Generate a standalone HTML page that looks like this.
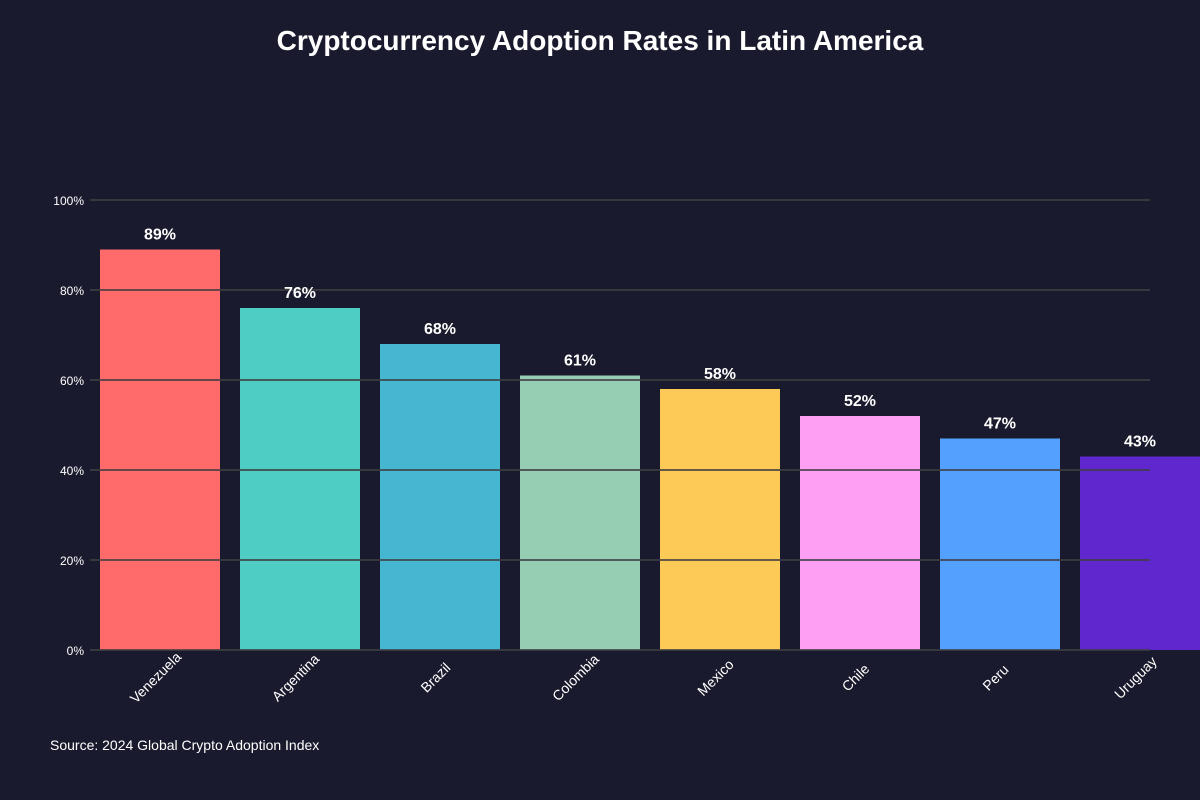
<!DOCTYPE html>
<html><head><meta charset="utf-8"><style>
html,body{margin:0;padding:0;background:#1a1a2e;}
svg{display:block;font-family:"Liberation Sans",Arial,sans-serif;}
</style></head><body>
<svg id="chart" width="1200" height="800">
<rect width="1200" height="800" fill="#1a1a2e"/>
<text x="600" y="50" text-anchor="middle" fill="#ffffff" font-size="28" font-weight="bold">Cryptocurrency Adoption Rates in Latin America</text>
<g id="bars"></g>
<g id="grid"></g>
<g id="labels"></g>
<text x="50" y="750" fill="#ffffff" font-size="14">Source: 2024 Global Crypto Adoption Index</text>
</svg>
<script>
const categories = ["Venezuela","Argentina","Brazil","Colombia","Mexico","Chile","Peru","Uruguay"];
const values = [89,76,68,61,58,52,47,43];
const colors = ["#ff6b6b","#4ecdc4","#45b7d1","#96ceb4","#feca57","#ff9ff3","#54a0ff","#5f27cd"];
const ticks = [0,20,40,60,80,100];
const tickLabels = ["0%","20%","40%","60%","80%","100%"];

const NS = "http://www.w3.org/2000/svg";
const y0 = 650, pxPer = 4.5;
function yScale(v){ return y0 - v*pxPer; }
function xScale(i){ return 100 + i*140; }
const bw = 120;
const bars = document.getElementById('bars');
const grid = document.getElementById('grid');
const labels = document.getElementById('labels');

function mk(tag, attrs, parent){
  const e = document.createElementNS(NS, tag);
  for (const k in attrs) e.setAttribute(k, attrs[k]);
  parent.appendChild(e);
  return e;
}

categories.forEach((c,i)=>{
  const x = xScale(i), y = yScale(values[i]);
  const r = mk('rect',{x:x,y:y,width:bw,height:y0-y,fill:colors[i]},bars);
  
  
  const v = mk('text',{x:x+bw/2,y:y-10,'text-anchor':'middle',fill:'#ffffff','font-size':16,'font-weight':'bold'},labels);
  v.textContent = values[i] + '%';
  
  
  const cx = x+bw/2-1, cy = 681;
  const t = mk('text',{x:cx,y:cy,'text-anchor':'middle',fill:'#ffffff','font-size':14,transform:'rotate(-45 '+cx+' '+cy+')'},labels);
  t.textContent = c;
  
  
});

ticks.forEach((tv,i)=>{
  const y = yScale(tv);
  const l = mk('line',{x1:90,x2:1150,y1:y,y2:y,stroke:'rgba(62,62,66,0.8)','stroke-width':2},grid);
  
  
  const t = mk('text',{x:84,y:y+5,'text-anchor':'end',fill:'#ffffff','font-size':12},labels);
  t.textContent = tickLabels[i];
  
  
});
</script>
</body></html>
